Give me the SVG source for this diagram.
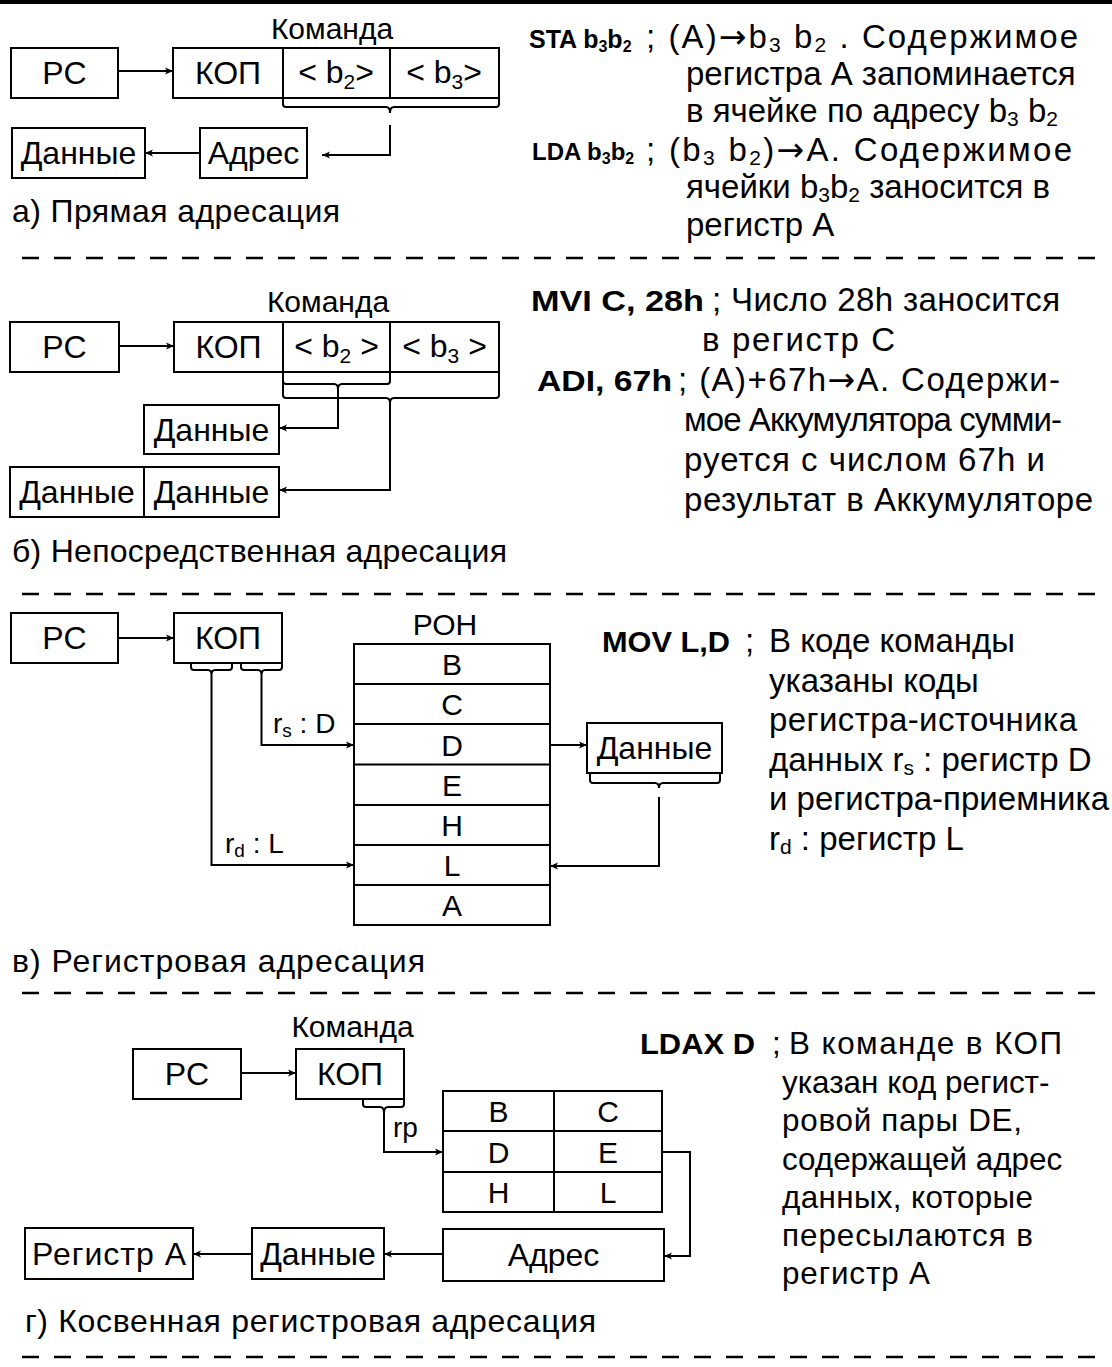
<svg xmlns="http://www.w3.org/2000/svg" width="1112" height="1367" viewBox="0 0 1112 1367">
<defs>
<style>
text{font-family:"Liberation Sans",Arial,sans-serif;fill:#000}
.bx{font-size:32px;text-anchor:middle}
.tl{font-size:30px;text-anchor:middle}
.lbl{font-size:32px}
.rt{font-size:33px}
.rg{font-size:31.4px}
.b{font-weight:bold;font-size:29px}
.bs{font-weight:bold;font-size:25px}
.sub{font-size:21px}
.sb{font-size:16px}
.arw{font-family:"DejaVu Sans",sans-serif}
.box{fill:#fff;stroke:#000;stroke-width:2}
.ln{fill:none;stroke:#000;stroke-width:2}
.ar{fill:none;stroke:#000;stroke-width:2;marker-end:url(#ah)}
.dash{fill:none;stroke:#000;stroke-width:2.5;stroke-dasharray:17 15}
</style>
<marker id="ah" markerUnits="userSpaceOnUse" markerWidth="12" markerHeight="10" refX="9" refY="5" orient="auto">
<path d="M1,1.5 L9,5 L1,8.5 L3,5 Z" fill="#000"/>
</marker>
</defs>
<rect width="1112" height="1367" fill="#fff"/>
<rect x="0" y="0" width="1112" height="4" fill="#000"/>

<g id="separators">
<path class="dash" d="M22,258 H1100"/>
<path class="dash" d="M22,594 H1100"/>
<path class="dash" d="M22,993 H1100"/>
<path class="dash" d="M22,1357 H1100"/>
</g>

<!-- ===== a) ===== -->
<g id="a-pc"><rect class="box" x="11" y="48" width="107" height="50"/><text class="bx" x="64.5" y="84">PC</text></g>
<g id="a-cmd">
<text class="tl" x="332" y="39">Команда</text>
<rect class="box" x="173" y="48" width="326" height="50"/>
<path class="ln" d="M283,48 V98 M390,48 V98"/>
<text class="bx" x="228" y="84">КОП</text>
<text class="bx" x="336" y="83">&lt; b<tspan class="sub" dy="6">2</tspan><tspan dy="-6">&gt;</tspan></text>
<text class="bx" x="444" y="83">&lt; b<tspan class="sub" dy="6">3</tspan><tspan dy="-6">&gt;</tspan></text>
</g>
<g id="a-addr"><rect class="box" x="200" y="128" width="107" height="50"/><text class="bx" x="253.5" y="164">Адрес</text></g>
<g id="a-data"><rect class="box" x="12" y="128" width="133" height="50"/><text class="bx" x="78.5" y="164">Данные</text></g>
<text class="lbl" x="12" y="222" textLength="328">а) Прямая адресация</text>
<g id="a-text">
<text class="bs" x="529" y="48">STA b<tspan class="sb" dy="4">3</tspan><tspan dy="-4">b</tspan><tspan class="sb" dy="4">2</tspan></text>
<text class="rt" x="646" y="48" textLength="432">; (A)<tspan class="arw">→</tspan>b<tspan class="sub" dy="4">3</tspan><tspan dy="-4"> b</tspan><tspan class="sub" dy="4">2</tspan><tspan dy="-4"> . Содержимое</tspan></text>
<text class="rt" x="686" y="85">регистра А запоминается</text>
<text class="rt" x="686" y="122">в ячейке по адресу b<tspan class="sub" dy="4">3</tspan><tspan dy="-4"> b</tspan><tspan class="sub" dy="4">2</tspan></text>
<text class="bs" x="532" y="160" style="font-size:24px">LDA b<tspan class="sb" dy="4">3</tspan><tspan dy="-4">b</tspan><tspan class="sb" dy="4">2</tspan></text>
<text class="rt" x="646" y="161" textLength="426">; (b<tspan class="sub" dy="4">3</tspan><tspan dy="-4"> b</tspan><tspan class="sub" dy="4">2</tspan><tspan dy="-4">)</tspan><tspan class="arw">→</tspan>A. Содержимое</text>
<text class="rt" x="686" y="198">ячейки b<tspan class="sub" dy="4">3</tspan><tspan dy="-4">b</tspan><tspan class="sub" dy="4">2</tspan><tspan dy="-4"> заносится в</tspan></text>
<text class="rt" x="686" y="236">регистр А</text>
</g>

<!-- ===== б) ===== -->
<g id="b-pc"><rect class="box" x="10" y="322" width="109" height="50"/><text class="bx" x="64.5" y="358">PC</text></g>
<g id="b-cmd">
<text class="tl" x="328" y="312">Команда</text>
<rect class="box" x="174" y="322" width="325" height="50"/>
<path class="ln" d="M283,322 V372 M390,322 V372"/>
<text class="bx" x="228.5" y="358">КОП</text>
<text class="bx" x="336.5" y="357">&lt; b<tspan class="sub" dy="6">2</tspan><tspan dy="-6"> &gt;</tspan></text>
<text class="bx" x="444.5" y="357">&lt; b<tspan class="sub" dy="6">3</tspan><tspan dy="-6"> &gt;</tspan></text>
</g>
<g id="b-data1"><rect class="box" x="144" y="405" width="135" height="49"/><text class="bx" x="211.5" y="441">Данные</text></g>
<g id="b-data2"><rect class="box" x="10" y="467" width="269" height="50"/><path class="ln" d="M144,467 V517"/><text class="bx" x="77" y="503">Данные</text><text class="bx" x="211.5" y="503">Данные</text></g>
<text class="lbl" x="12" y="562" textLength="495">б) Непосредственная адресация</text>
<g id="b-text">
<text class="b" x="531" y="311" textLength="173" lengthAdjust="spacingAndGlyphs">MVI C, 28h</text>
<text class="rt" x="712" y="311" textLength="348">; Число 28h заносится</text>
<text class="rt" x="702" y="351" textLength="193">в регистр С</text>
<text class="b" x="537" y="391" textLength="135" lengthAdjust="spacingAndGlyphs">ADI, 67h</text>
<text class="rt" x="678" y="391" textLength="382">; (A)+67h<tspan class="arw">→</tspan>A. Содержи-</text>
<text class="rt" x="684" y="431" textLength="378">мое Аккумулятора сумми-</text>
<text class="rt" x="684" y="471" textLength="361">руется с числом 67h и</text>
<text class="rt" x="684" y="511" textLength="409">результат в Аккумуляторе</text>
</g>

<!-- ===== в) ===== -->
<g id="c-pc"><rect class="box" x="11" y="613" width="107" height="50"/><text class="bx" x="64.5" y="649">PC</text></g>
<g id="c-kop"><rect class="box" x="174" y="613" width="108" height="50"/><text class="bx" x="228" y="649">КОП</text></g>
<g id="c-roh">
<text class="tl" x="445" y="635">РОН</text>
<rect class="box" x="354" y="644" width="196" height="281"/>
<path class="ln" d="M354,684 H550 M354,724 H550 M354,764.5 H550 M354,805 H550 M354,845 H550 M354,885 H550"/>
<text class="tl" x="452" y="675">B</text>
<text class="tl" x="452" y="715">C</text>
<text class="tl" x="452" y="755.5">D</text>
<text class="tl" x="452" y="796">E</text>
<text class="tl" x="452" y="836">H</text>
<text class="tl" x="452" y="876">L</text>
<text class="tl" x="452" y="916">A</text>
</g>
<g id="c-data"><rect class="box" x="587" y="723" width="135" height="50"/><text class="bx" x="654.5" y="759">Данные</text></g>
<text class="lbl" x="12" y="972" textLength="413">в) Регистровая адресация</text>
<g id="c-text">
<text class="b" x="602" y="652" textLength="128" lengthAdjust="spacingAndGlyphs">MOV L,D</text>
<text class="rt" x="745" y="652">;</text>
<text class="rt" x="769" y="652" textLength="246">В коде команды</text>
<text class="rt" x="769" y="692">указаны коды</text>
<text class="rt" x="769" y="731" textLength="308">регистра-источника</text>
<text class="rt" x="769" y="771">данных r<tspan class="sub" dy="4">s</tspan><tspan dy="-4"> : регистр D</tspan></text>
<text class="rt" x="769" y="810" textLength="340">и регистра-приемника</text>
<text class="rt" x="769" y="850">r<tspan class="sub" dy="4">d</tspan><tspan dy="-4"> : регистр L</tspan></text>
</g>

<!-- ===== г) ===== -->
<g id="d-pc"><rect class="box" x="133" y="1049" width="108" height="50"/><text class="bx" x="187" y="1085">PC</text></g>
<g id="d-kop">
<text class="tl" x="352.5" y="1037">Команда</text>
<rect class="box" x="296" y="1049" width="108" height="50"/><text class="bx" x="350" y="1085">КОП</text>
</g>
<g id="d-table">
<rect class="box" x="443" y="1091" width="219" height="121"/>
<path class="ln" d="M443,1131 H662 M443,1172 H662 M554,1091 V1212"/>
<text class="tl" x="498.5" y="1122">B</text><text class="tl" x="608" y="1122">C</text>
<text class="tl" x="498.5" y="1162.5">D</text><text class="tl" x="608" y="1162.5">E</text>
<text class="tl" x="498.5" y="1203">H</text><text class="tl" x="608" y="1203">L</text>
</g>
<g id="d-addr"><rect class="box" x="443" y="1229" width="221" height="52"/><text class="bx" x="553.5" y="1266">Адрес</text></g>
<g id="d-data"><rect class="box" x="252" y="1228" width="132" height="51"/><text class="bx" x="318" y="1265">Данные</text></g>
<g id="d-rega"><rect class="box" x="25" y="1228" width="168" height="51"/><text class="bx" x="109" y="1265" textLength="154">Регистр А</text></g>
<text class="lbl" x="25" y="1332" textLength="571">г) Косвенная регистровая адресация</text>
<g id="d-text">
<text class="b" x="640" y="1054" textLength="115" lengthAdjust="spacingAndGlyphs">LDAX D</text>
<text class="rg" x="772" y="1054">;</text>
<text class="rg" x="789" y="1054" textLength="273">В команде в КОП</text>
<text class="rg" x="782" y="1093">указан код регист-</text>
<text class="rg" x="782" y="1131" textLength="240">ровой пары DE,</text>
<text class="rg" x="782" y="1170">содержащей адрес</text>
<text class="rg" x="782" y="1208" textLength="251">данных, которые</text>
<text class="rg" x="782" y="1246" textLength="251">пересылаются в</text>
<text class="rg" x="782" y="1284" textLength="148">регистр А</text>
</g>

<g id="connectors">
<path class="ar" d="M118,71 H173"/>
<path class="ln" d="M283,98 V104 Q283,107 286,107 H386 Q390,107 390,113 Q390,107 394,107 H496 Q499,107 499,104 V98"/>
<path class="ar" d="M390,125 V155 H322"/>
<path class="ar" d="M200,153 H145"/>

<path class="ar" d="M119,346 H174"/>
<path class="ln" d="M283,372 V381 Q283,384 286,384 H334 Q338,384 338,389 Q338,384 342,384 H387 Q390,384 390,381 V372"/>
<path class="ln" d="M283,372 V395 Q283,398 286,398 H386 Q390,398 390,403 Q390,398 394,398 H496 Q499,398 499,395 V372"/>
<path class="ar" d="M338,389 V428 H279"/>
<path class="ar" d="M390,403 V490 H279"/>

<path class="ar" d="M118,638 H174"/>
<path class="ln" d="M191,663 V667 Q191,670 194,670 H208 Q211.5,670 211.5,675 Q211.5,670 215,670 H229 Q232,670 232,667 V663"/>
<path class="ln" d="M241,663 V667 Q241,670 244,670 H258 Q261.5,670 261.5,675 Q261.5,670 265,670 H279 Q282,670 282,667 V663"/>
<path class="ar" d="M261.5,675 V745 H354"/>
<path class="ar" d="M211.5,675 V865 H354"/>
<text style="font-size:28px" x="273" y="733">r<tspan dy="4" style="font-size:19px">s</tspan><tspan dy="-4"> : D</tspan></text>
<text style="font-size:28px" x="225" y="853">r<tspan dy="4" style="font-size:19px">d</tspan><tspan dy="-4"> : L</tspan></text>
<path class="ar" d="M550,745 H587"/>
<path class="ln" d="M590,773 V780 Q590,783 593,783 H655 Q659,783 659,788 Q659,783 663,783 H717 Q720,783 720,780 V773"/>
<path class="ar" d="M659,797 V866 H550"/>

<path class="ar" d="M241,1073 H296"/>
<path class="ln" d="M363,1099 V1104 Q363,1107 366,1107 H380 Q384,1107 384,1113 Q384,1107 388,1107 H401 Q404,1107 404,1104 V1099"/>
<path class="ar" d="M384,1113 V1152 H443"/>
<text style="font-size:28px" x="393" y="1137">rp</text>
<path class="ar" d="M662,1152 H690 V1256 H664"/>
<path class="ar" d="M443,1254 H384"/>
<path class="ar" d="M252,1254 H193"/>
</g>
</svg>
